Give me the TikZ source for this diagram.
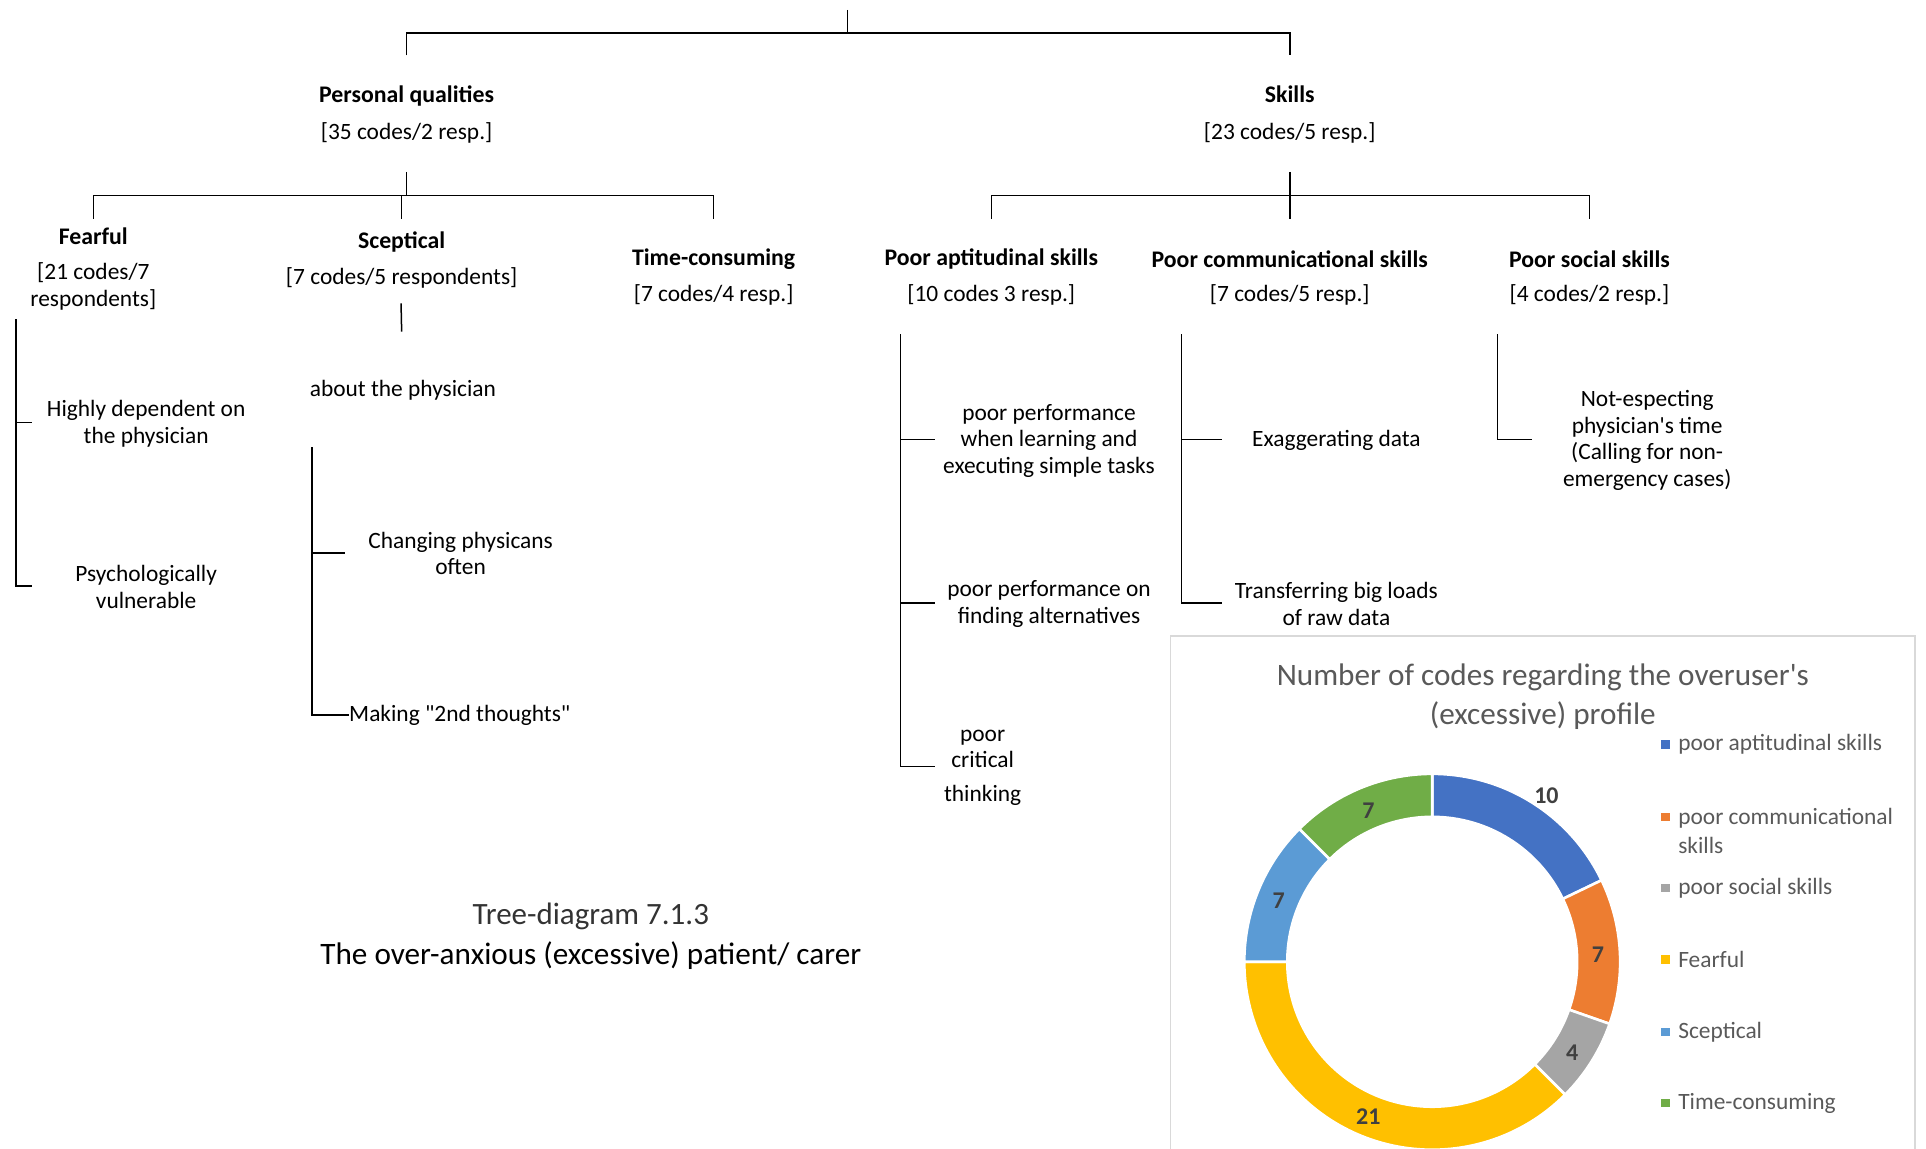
\documentclass[tikz,border=0pt]{standalone}
\usepackage{fontspec}
\newfontfamily\calfont{Carlito}
\definecolor{cblue}{HTML}{4472C4}
\definecolor{corange}{HTML}{ED7D31}
\definecolor{cgray}{HTML}{A5A5A5}
\definecolor{cyellow}{HTML}{FFC000}
\definecolor{clblue}{HTML}{5B9BD5}
\definecolor{cgreen}{HTML}{70AD47}
\definecolor{ctext}{HTML}{595959}
\definecolor{clabel}{HTML}{404040}
\definecolor{cframe}{HTML}{D9D9D9}
\begin{document}
\begin{tikzpicture}[x=0.6142pt,y=-0.6142pt,
  every node/.style={font=\calfont\fontsize{11.7}{13.4}\selectfont, align=center, inner sep=0pt},
  hd/.style={font=\calfont\bfseries\fontsize{11.9}{13.4}\selectfont},
  ln/.style={line width=0.75pt, black},
  leg/.style={anchor=west, align=left, text=ctext, font=\calfont\fontsize{11.7}{14.2}\selectfont},
  legsq/.style={minimum size=4.3pt, inner sep=0pt},
  val/.style={text=clabel, font=\calfont\bfseries\fontsize{12}{14}\selectfont},
  seg/.style={draw=white, line width=1.3pt}]
\useasboundingbox (0,0) rectangle (1568,935);

% ---- level 1
\node[hd] (pq) at (331,78.5) {Personal qualities};
\node (pqc) at (331,108.5) {[35 codes/2 resp.]};
\node[hd] (sk) at (1050,77) {Skills};
\node (skc) at (1050,108.5) {[23 codes/5 resp.]};

% ---- level 2
\node[hd] (fe) at (76,192.5) {Fearful};
\node (fec) at (76,233) {[21 codes/7\\respondents]};
\node[hd] (sc) at (327,197) {Sceptical};
\node (scc) at (327,226.5) {[7 codes/5 respondents]};
\node[hd] (tc) at (581,211) {Time-consuming};
\node (tcc) at (581,240.5) {[7 codes/4 resp.]};
\node[hd] (pa) at (807,211) {Poor aptitudinal skills};
\node (pac) at (807,240.5) {[10 codes 3 resp.]};
\node[hd] (pc) at (1050,211) {Poor communicational skills};
\node (pcc) at (1050,240.5) {[7 codes/5 resp.]};
\node[hd] (ps) at (1294,211) {Poor social skills};
\node (psc) at (1294,240.5) {[4 codes/2 resp.]};

% ---- leaves
\node (hdp) at (119,345) {Highly dependent on\\the physician};
\node (pv) at (119,478) {Psychologically\\vulnerable};
\node (ab) at (328,318) {about the physician};
\node (ch) at (375,450.5) {Changing physicans\\often};
\node[anchor=west] (mk) at (284,582) {Making "2nd thoughts"};
\node (pp1) at (854,359) {poor performance\\when learning and\\executing simple tasks};
\node (pp2) at (854,491.5) {poor performance on\\finding alternatives};
\node (pct) at (800,625) {poor\\critical\\[3.5pt]thinking};
\node (ex) at (1088,358.5) {Exaggerating data};
\node (tr) at (1088,491.5) {Transferring big loads\\of raw data};
\node (ne) at (1341,358.5) {Not-especting\\physician's time\\(Calling for non-\\emergency cases)};

% ---- connector coordinates
\coordinate (r0) at (690,8);   \coordinate (r1) at (690,27);
\coordinate (rl) at (331,27);  \coordinate (rr) at (1050,27);
\coordinate (pqt) at (331,45); \coordinate (skt) at (1050,45);

\coordinate (pq0) at (331,140); \coordinate (pq1) at (331,159);
\coordinate (hl) at (76,159); \coordinate (hm) at (327,159); \coordinate (hr) at (581,159);
\coordinate (fet) at (76,178); \coordinate (sct) at (327,178); \coordinate (tct) at (581,178);

\coordinate (sk0) at (1050,140); \coordinate (sk1) at (1050,159);
\coordinate (sl) at (807,159); \coordinate (sr) at (1294,159);
\coordinate (pat) at (807,178); \coordinate (pct0) at (1050,178); \coordinate (pst) at (1294,178);

% root
\draw[ln] (r0) -- (r1);
\draw[ln] (pqt) -- (rl) -- (rr) -- (skt);
% personal qualities
\draw[ln] (pq0) -- (pq1);
\draw[ln] (fet) -- (hl) -- (hr) -- (tct);
\draw[ln] (hm) -- (sct);
% skills
\draw[ln] (sk0) -- (pct0);
\draw[ln] (pat) -- (sl) -- (sr) -- (pst);

% fearful bracket
\coordinate (fa) at (13,260); \coordinate (fb) at (13,477); \coordinate (fm) at (13,344);
\draw[ln] (fa) -- (fb) -- ++(13,0);
\draw[ln] (fm) -- ++(13,0);
% sceptical
\coordinate (sa) at (326.5,247); \coordinate (sb) at (327,270);
\draw[ln] (sa) -- (sb);
\coordinate (ska) at (254,364); \coordinate (skb) at (254,582); \coordinate (skm) at (254,450);
\draw[ln] (ska) -- (skb) -- (mk.west);
\draw[ln] (skm) -- ++(27,0);
% aptitudinal
\coordinate (aa) at (733,272); \coordinate (ab1) at (733,358); \coordinate (ab2) at (733,491); \coordinate (ab3) at (733,624);
\draw[ln] (aa) -- (ab3) -- ++(28,0);
\draw[ln] (ab1) -- ++(28,0);
\draw[ln] (ab2) -- ++(28,0);
% communicational
\coordinate (ca) at (962,272); \coordinate (cb1) at (962,358); \coordinate (cb2) at (962,491);
\draw[ln] (ca) -- (cb2) -- ++(33,0);
\draw[ln] (cb1) -- ++(33,0);
% social
\coordinate (soa) at (1219,272); \coordinate (sob) at (1219,358);
\draw[ln] (soa) -- (sob) -- ++(28,0);

% ---- captions
\node[font=\calfont\fontsize{15.5}{18}\selectfont, text=black!80] (cap1) at (481,746) {Tree-diagram 7.1.3};
\node[font=\calfont\fontsize{15.6}{18}\selectfont] (cap2) at (481,778) {The over-anxious (excessive) patient/ carer};

% ---- chart frame
\draw[cframe, line width=0.8pt] (953,945) -- (953,518) -- (1559,518) -- (1559,945);
\node[text=ctext, font=\calfont\fontsize{15.6}{19.6}\selectfont] (ttl) at (1256,567) {Number of codes regarding the overuser's\\(excessive) profile};

% ---- donut
\begin{scope}[shift={(1166,783)}]
\def\Ro{153}\def\Ri{118}
\fill[cblue, seg]   (-90:\Ro) arc[start angle=-90, end angle=-25.714, radius=\Ro] -- (-25.714:\Ri) arc[start angle=-25.714, end angle=-90, radius=\Ri] -- cycle;
\fill[corange, seg] (-25.714:\Ro) arc[start angle=-25.714, end angle=19.286, radius=\Ro] -- (19.286:\Ri) arc[start angle=19.286, end angle=-25.714, radius=\Ri] -- cycle;
\fill[cgray, seg]   (19.286:\Ro) arc[start angle=19.286, end angle=45, radius=\Ro] -- (45:\Ri) arc[start angle=45, end angle=19.286, radius=\Ri] -- cycle;
\fill[cyellow, seg] (45:\Ro) arc[start angle=45, end angle=180, radius=\Ro] -- (180:\Ri) arc[start angle=180, end angle=45, radius=\Ri] -- cycle;
\fill[clblue, seg]  (180:\Ro) arc[start angle=180, end angle=225, radius=\Ro] -- (225:\Ri) arc[start angle=225, end angle=180, radius=\Ri] -- cycle;
\fill[cgreen, seg]  (225:\Ro) arc[start angle=225, end angle=270, radius=\Ro] -- (270:\Ri) arc[start angle=270, end angle=225, radius=\Ri] -- cycle;
\end{scope}
\node[val] (v1) at (1259,648) {10};
\node[val] (v2) at (1301,777) {7};
\node[val] (v3) at (1280,857) {4};
\node[val] (v4) at (1114,909) {21};
\node[val] (v5) at (1041,733) {7};
\node[val] (v6) at (1114,660) {7};

% ---- legend
\node[legsq, fill=cblue]   (q1) at (1356,606) {};
\node[legsq, fill=corange] (q2) at (1356,665) {};
\node[legsq, fill=cgray]   (q3) at (1356,723) {};
\node[legsq, fill=cyellow] (q4) at (1356,781) {};
\node[legsq, fill=clblue]  (q5) at (1356,840) {};
\node[legsq, fill=cgreen]  (q6) at (1356,898) {};
\node[leg] (l1) at (1366,606) {poor aptitudinal skills};
\node[leg] (l2) at (1366,676.5) {poor communicational\\skills};
\node[leg] (l3) at (1366,723) {poor social skills};
\node[leg] (l4) at (1366,781) {Fearful};
\node[leg] (l5) at (1366,840) {Sceptical};
\node[leg] (l6) at (1366,898) {Time-consuming};
\end{tikzpicture}
\end{document}
